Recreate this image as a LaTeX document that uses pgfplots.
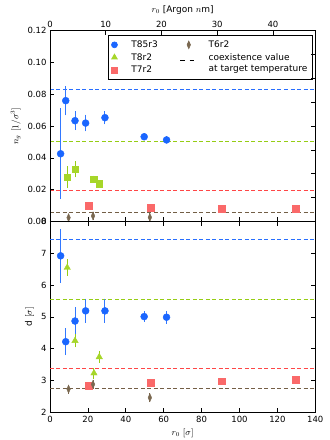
\documentclass[border=0pt]{standalone}
\usepackage{fontspec}
\setmainfont{DejaVu Sans}
\usepackage{pgfplots}
\pgfplotsset{compat=1.18}

\definecolor{cblue}{RGB}{26,102,255}
\definecolor{cgreen}{RGB}{166,214,41}
\definecolor{cred}{RGB}{250,105,105}
\definecolor{cbrown}{RGB}{122,104,80}
% shades for error bars and reference lines
\definecolor{ebblue}{RGB}{50,120,255}
\definecolor{ebgreen}{RGB}{150,205,20}
\definecolor{ebbrown}{RGB}{120,100,72}
\definecolor{dblue}{RGB}{40,110,255}
\definecolor{dgreen}{RGB}{150,205,20}
\definecolor{dred}{RGB}{255,70,70}
\definecolor{dbrown}{RGB}{115,95,70}

\pgfplotsset{
  panel/.style={scale only axis, width=265.3pt, height=190.8pt,
    xmin=0, xmax=140, tick align=inside, major tick length=4pt,
    tick style={black, line width=0.6pt}, axis line style={line width=0.8pt},
    /pgf/number format/assume math mode=true,
    ticklabel style={font=\fontsize{8.5}{10}\selectfont},
    label style={font=\fontsize{9}{10}\selectfont}},
  dot/.style={only marks, mark=*, mark size=3.5pt, color=cblue},
  tri/.style={only marks, mark=triangle*, mark size=3.7pt, color=cgreen},
  sq/.style={only marks, mark=square*, mark size=3.3pt, color=cred},
  sqg/.style={only marks, mark=square*, mark size=3.3pt, color=cgreen},
  dia/.style={only marks, mark=diamond*, mark size=4pt, mark options={xscale=0.6}, color=cbrown},
  coex/.style={dash pattern=on 4pt off 2.5pt, line width=1pt, forget plot},
  dashleg/.style={legend image code/.code={%
    \draw[black, dash pattern=on 4.7pt off 4.7pt, line width=0.8pt] (0pt,-3pt) -- (14pt,-3pt);}},
}

\begin{document}
\begin{tikzpicture}
\path[use as bounding box] (0,0) rectangle (330pt,440pt);

% top panel: number density
\begin{axis}[panel, at={(50pt,218.5pt)}, anchor=south west,
  ymin=0, ymax=0.12, ytick={0,0.02,0.04,0.06,0.08,0.10,0.12}, ytick pos=left,
  xtick={0,20,40,60,80,100,120,140}, xticklabels={}, xtick pos=left,
  yticklabel style={/pgf/number format/.cd, fixed, fixed zerofill, precision=2},
  ylabel={$n_g$ $[1/\sigma^3]$},
  legend columns=2,
  legend style={at={(0.99,0.976)}, anchor=north east, draw=black, line width=0.6pt,
    font=\fontsize{9}{10.5}\selectfont, inner xsep=3pt, inner ysep=3pt,
    cells={anchor=west, text height=7pt, text depth=2.2pt, inner sep=2pt},
    /tikz/every odd column/.append style={column sep=12pt},
    /tikz/every even column/.append style={column sep=20pt}}]
\addplot[coex, dblue] coordinates {(0,0.0833) (140,0.0833)};
\addplot[coex, dgreen] coordinates {(0,0.0504) (140,0.0504)};
\addplot[coex, dred] coordinates {(0,0.0198) (140,0.0198)};
\addplot[coex, dbrown] coordinates {(0,0.0058) (140,0.0058)};
\addplot[dot, forget plot, error bars/.cd, y dir=both, y explicit,
  error bar style={draw=ebblue, line width=1pt},
  error mark options={draw=ebblue, line width=1pt, mark size=2.2pt}] coordinates {
  (5.6,0.0426) +- (0,0.0272)
  (8.3,0.0760) +- (0,0.0079)
  (13.2,0.0634) +- (0,0.0046)
  (18.8,0.0619) +- (0,0.0039)
  (29.0,0.0653) +- (0,0.0028)
  (49.7,0.0533) +- (0,0.0008)
  (61.5,0.0513) +- (0,0.0008)};
\addplot[sqg, forget plot, error bars/.cd, y dir=both, y explicit,
  error bar style={draw=ebgreen, line width=1pt},
  error mark options={draw=ebgreen, line width=1pt, mark size=2.2pt}] coordinates {
  (9.1,0.0278) +- (0,0.0055)
  (13.2,0.0328) +- (0,0.0036)
  (23.2,0.0267) +- (0,0.0008)
  (26.0,0.0238) +- (0,0.0008)};
\addplot[sq, forget plot] coordinates {
  (20.4,0.0099) (53.1,0.0087) (90.7,0.0079) (129.6,0.0079)};
\addplot[dia, forget plot, error bars/.cd, y dir=both, y explicit,
  error bar style={draw=ebbrown, line width=1pt},
  error mark options={draw=ebbrown, line width=1pt, mark size=2pt}] coordinates {
  (9.8,0.0024) +- (0,0.0012)
  (22.7,0.0035) +- (0,0.0012)
  (52.7,0.0026) +- (0,0.0012)};
\addlegendimage{only marks, mark=*, mark size=3pt, color=cblue}
\addlegendentry{T85r3}
\addlegendimage{only marks, mark=diamond*, mark size=3.8pt, mark options={xscale=0.6}, color=cbrown}
\addlegendentry{T6r2}
\addlegendimage{only marks, mark=triangle*, mark size=3.3pt, color=cgreen}
\addlegendentry{T8r2}
\addlegendimage{dashleg}
\addlegendentry{\begin{tabular}[t]{@{}l@{}}coexistence value\\[1pt]at target temperature\end{tabular}}
\addlegendimage{only marks, mark=square*, mark size=3pt, color=cred}
\addlegendentry{T7r2}
\end{axis}

% second scale on top panel
\begin{axis}[panel, at={(50pt,218.5pt)}, anchor=south west,
  xmin=0, xmax=47.6, ymin=0, ymax=0.16,
  xtick={0,10,20,30,40}, xtick pos=right, xticklabel pos=right,
  ytick={0,0.02,0.04,0.06,0.08,0.10,0.12,0.14,0.16}, ytick pos=right, yticklabels={},
  xlabel={$r_0$ [Argon $n$m]}]
\end{axis}

% bottom panel: droplet size
\begin{axis}[panel, at={(50pt,27.7pt)}, anchor=south west,
  ymin=2, ymax=8, ytick={2,3,4,5,6,7,8},
  xtick={0,20,40,60,80,100,120,140},
  xlabel={$r_0$ $[\sigma]$}, ylabel={d $[\sigma]$}]
\addplot[coex, dblue] coordinates {(0,7.42) (140,7.42)};
\addplot[coex, dgreen] coordinates {(0,5.56) (140,5.56)};
\addplot[coex, dred] coordinates {(0,3.38) (140,3.38)};
\addplot[coex, dbrown] coordinates {(0,2.74) (140,2.74)};
\addplot[dot, error bars/.cd, y dir=both, y explicit,
  error bar style={draw=ebblue, line width=1pt},
  error mark options={draw=ebblue, line width=1pt, mark size=2.2pt}] coordinates {
  (5.6,6.92) +- (0,0.78)
  (8.3,4.22) +- (0,0.35)
  (13.2,4.87) +- (0,0.36)
  (18.8,5.19) +- (0,0.31)
  (29.0,5.19) +- (0,0.31)
  (49.7,5.01) +- (0,0.10)
  (61.5,4.99) +- (0,0.13)};
\addplot[tri, error bars/.cd, y dir=both, y explicit,
  error bar style={draw=ebgreen, line width=1pt},
  error mark options={draw=ebgreen, line width=1pt, mark size=2.2pt}] coordinates {
  (9.1,6.55) +- (0,0.19)
  (13.2,4.25) +- (0,0.14)
  (23.2,3.23) +- (0,0.10)
  (26.0,3.74) +- (0,0.12)};
\addplot[sq] coordinates {
  (20.4,2.84) (53.1,2.94) (90.7,2.98) (129.6,3.03)};
\addplot[dia, error bars/.cd, y dir=both, y explicit,
  error bar style={draw=ebbrown, line width=1pt},
  error mark options={draw=ebbrown, line width=1pt, mark size=2pt}] coordinates {
  (9.8,2.73) +- (0,0.08)
  (22.7,2.88) +- (0,0.08)
  (52.7,2.46) +- (0,0.08)};
\end{axis}
\end{tikzpicture}
\end{document}
